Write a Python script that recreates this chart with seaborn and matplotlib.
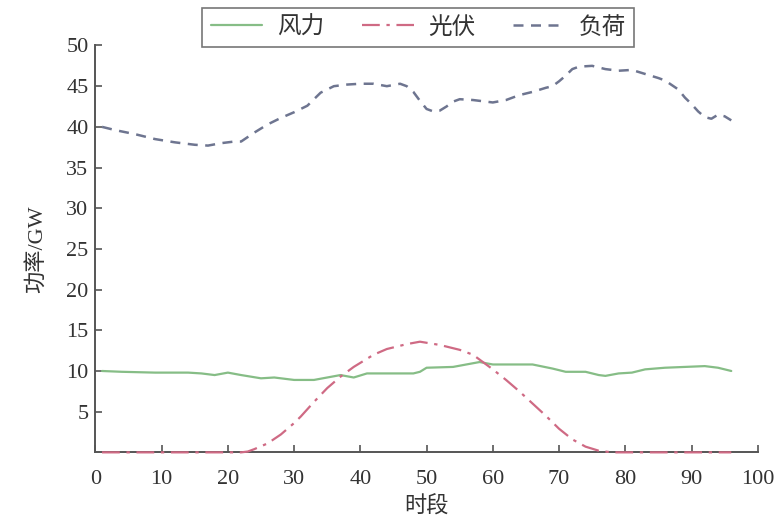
import numpy as np
import pandas as pd
import matplotlib
matplotlib.use("Agg")
import matplotlib.pyplot as plt
import seaborn as sns

# ---- data ----
load_t = [1, 3, 6, 9, 12, 15, 17, 19, 21, 22, 24, 26, 28, 30, 32, 34, 35, 36, 38, 40,
          42, 44, 46, 47, 48, 49, 50, 51, 52, 53, 54, 55, 57, 60, 62, 64, 66, 68, 69, 70,
          71, 72, 73, 75, 77, 79, 81, 83, 85, 86, 88, 89, 90, 91, 92, 93, 94, 95, 96]
load_v = [40.0, 39.6, 39.1, 38.5, 38.1, 37.8, 37.7, 38.0, 38.2, 38.2, 39.3, 40.3, 41.1, 41.8,
          42.6, 44.2, 44.6, 45.0, 45.2, 45.3, 45.3, 45.0, 45.3, 45.0, 44.3, 43.2, 42.2, 41.9,
          42.0, 42.5, 43.1, 43.4, 43.3, 43.0, 43.3, 43.9, 44.3, 44.8, 45.0, 45.6, 46.3, 47.1,
          47.4, 47.5, 47.1, 46.9, 47.0, 46.5, 46.0, 45.7, 44.6, 43.6, 42.8, 41.9, 41.2, 41.0,
          41.5, 41.3, 40.8]

wind_t = [1, 4, 9, 14, 16, 18, 20, 22, 25, 27, 30, 33, 35, 37, 39, 41, 44, 48, 49, 50,
          54, 56, 58, 60, 63, 66, 69, 71, 74, 76, 77, 79, 81, 83, 86, 89, 92, 94, 96]
wind_v = [10.0, 9.9, 9.8, 9.8, 9.7, 9.5, 9.8, 9.5, 9.1, 9.2, 8.9, 8.9, 9.2, 9.5, 9.2, 9.7,
          9.7, 9.7, 9.9, 10.4, 10.5, 10.8, 11.1, 10.8, 10.8, 10.8, 10.3, 9.9, 9.9, 9.5, 9.4,
          9.7, 9.8, 10.2, 10.4, 10.5, 10.6, 10.4, 10.0]

pv_t = [1, 22, 23, 24, 26, 28, 30, 31, 33, 35, 37, 39, 42, 44, 47, 49, 52, 55, 57, 58,
        60, 62, 64, 66, 68, 70, 72, 74, 76, 78, 96]
pv_v = [0.0, 0.0, 0.1, 0.4, 1.1, 2.2, 3.6, 4.4, 6.2, 7.9, 9.3, 10.5, 12.0, 12.7, 13.3, 13.6,
        13.2, 12.6, 12.0, 11.4, 10.2, 8.9, 7.5, 6.0, 4.5, 2.9, 1.6, 0.7, 0.2, 0.0, 0.0]

series_names = ["风力", "光伏", "负荷"]
x_ticks = [0, 10, 20, 30, 40, 50, 60, 70, 80, 90, 100]
y_ticks = [5, 10, 15, 20, 25, 30, 35, 40, 45, 50]
x_label = "时段"
y_label = "功率/GW"

# ---- style ----
sns.set_style("ticks")
plt.rcParams['font.family'] = ['Liberation Serif', 'Noto Sans CJK SC', 'DejaVu Sans']
plt.rcParams['axes.unicode_minus'] = False

fig = plt.figure(figsize=(7.82, 5.26), dpi=100)
ax = fig.add_axes([0.122, 0.14, 0.847, 0.7735])

c_wind = "#86bd86"
c_pv = "#cf6a84"
c_load = "#6e7590"

df_w = pd.DataFrame({"t": wind_t, "v": wind_v})
df_p = pd.DataFrame({"t": pv_t, "v": pv_v})
df_l = pd.DataFrame({"t": load_t, "v": load_v})

sns.lineplot(data=df_w, x="t", y="v", ax=ax, color=c_wind, lw=1.6, label=series_names[0])
sns.lineplot(data=df_p, x="t", y="v", ax=ax, color=c_pv, lw=1.6, label=series_names[1])
sns.lineplot(data=df_l, x="t", y="v", ax=ax, color=c_load, lw=1.8, label=series_names[2])
ax.lines[1].set_dashes([8, 3, 1.5, 3])
ax.lines[2].set_dashes([4, 3])
for ln in ax.lines:
    ln.set_clip_on(False)
ax.lines[1].set_zorder(5)

ax.set_xlim(0, 100)
ax.set_ylim(0, 50)
ax.set_xticks(x_ticks)
ax.set_yticks(y_ticks)
ax.tick_params(direction="in", length=5, width=1.2, color="#555555", labelsize=16,
               labelcolor="#333333")
ax.tick_params(axis="x", pad=13)
ax.tick_params(axis="y", pad=5)
for s in ["top", "right"]:
    ax.spines[s].set_visible(False)
for s in ["left", "bottom"]:
    ax.spines[s].set_color("#555555")
    ax.spines[s].set_linewidth(1.4)

ax.set_xlabel(x_label, fontsize=16, color="#333333", labelpad=5)
ax.set_ylabel(y_label, fontsize=16, color="#333333", labelpad=14)

leg = ax.legend(loc="center", bbox_to_anchor=(0.535, 0.948), bbox_transform=fig.transFigure,
                ncol=3, frameon=True, fancybox=False, fontsize=17, handlelength=2.2,
                columnspacing=1.6, borderpad=0.35, handletextpad=0.6)
leg.get_frame().set_edgecolor("#555555")
leg.get_frame().set_linewidth(1.2)
for t in leg.get_texts():
    t.set_color("#333333")

fig.savefig("out.png", dpi=100)
